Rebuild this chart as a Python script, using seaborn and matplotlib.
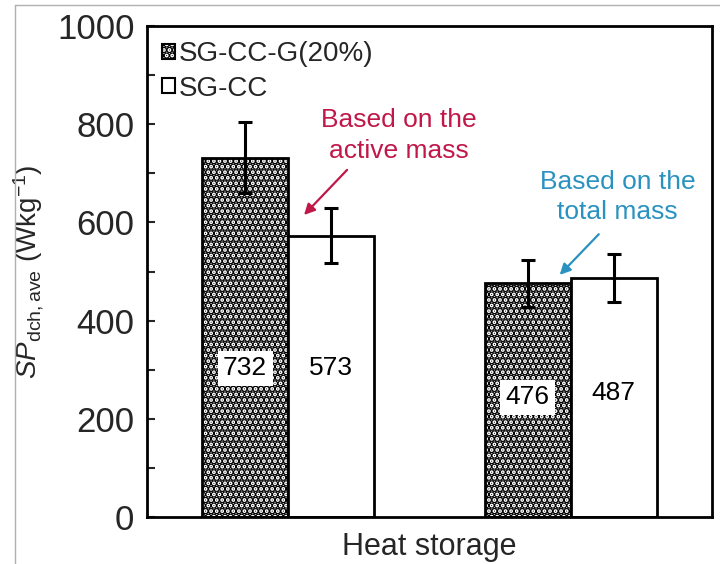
import matplotlib
matplotlib.use("Agg")
import matplotlib.pyplot as plt
import seaborn as sns
import pandas as pd
from matplotlib.patches import Patch
from matplotlib.lines import Line2D

# Average specific discharge power, W/kg
samples = ["SG-CC-G(20%)", "SG-CC"]
basis = ["Active mass", "Total mass"]
sp_composite = [732, 476]
sp_plain = [573, 487]
err_composite = [72, 48]
err_plain = [56, 49]
label_y = [[303, 244], [303, 253]]

sns.set_theme(style="white")
plt.rcParams["font.family"] = ["Liberation Sans", "DejaVu Sans"]
plt.rcParams["mathtext.fontset"] = "custom"
plt.rcParams["mathtext.rm"] = "Liberation Sans"
plt.rcParams["mathtext.it"] = "Liberation Sans:italic"
plt.rcParams["hatch.linewidth"] = 3.6
plt.rcParams["hatch.color"] = "black"

df = pd.DataFrame({
    "basis": basis * 2,
    "sample": [samples[0]] * 2 + [samples[1]] * 2,
    "sp": sp_composite + sp_plain,
})
errs = [err_composite, err_plain]
vals = [sp_composite, sp_plain]
stipple = "..."

fig = plt.figure(figsize=(7.2, 5.64), dpi=100)
ax = fig.add_axes([147 / 720, 1 - 517 / 564, (712 - 147) / 720, (517 - 26) / 564])

sns.barplot(data=df, x="basis", y="sp", hue="sample", hue_order=samples,
            order=basis, palette=["white", "white"], width=0.61,
            edgecolor="black", linewidth=2, errorbar=None, legend=False, ax=ax)

bar_groups = list(ax.containers)
for i, cont in enumerate(bar_groups):
    for j, bar in enumerate(list(cont)):
        if i == 0:
            bar.set_hatch(stipple)
        cx = bar.get_x() + bar.get_width() / 2
        ax.errorbar(cx, vals[i][j], yerr=errs[i][j], fmt="none", ecolor="black",
                    elinewidth=2.2, capsize=5, capthick=2.2, zorder=5)
        bbox = dict(facecolor="white", edgecolor="none", pad=4) if i == 0 else None
        ax.text(cx, label_y[i][j], f"{vals[i][j]}", ha="center", va="center",
                fontsize=19, color="black", bbox=bbox, zorder=6)

ax.set_xlim(-0.5, 1.5)
ax.set_ylim(0, 1000)
ax.set_yticks(range(0, 1001, 200))
ax.set_yticks(range(100, 1000, 200), minor=True)
ax.tick_params(axis="y", which="both", direction="in", left=True, length=6,
               width=1.5, labelsize=25, pad=9)
ax.tick_params(axis="x", bottom=False, labelbottom=False)
ax.set_xlabel("Heat storage", fontsize=22, labelpad=11)
ax.set_ylabel(r"$SP$$_{\mathrm{dch,ave}}$ (Wkg$^{\mathrm{-1}}$)", fontsize=20, labelpad=8)
for sp in ax.spines.values():
    sp.set_visible(True)
    sp.set_color("black")
    sp.set_linewidth(2)

red = "#c01848"
blue = "#2a92c0"
ax.text(0.39, 777, "Based on the\nactive mass", color=red, fontsize=19,
        ha="center", va="center", linespacing=1.35)
ax.annotate("", xy=(0.049, 611), xytext=(0.215, 711),
            arrowprops=dict(arrowstyle="-|>", color=red, lw=1.6, mutation_scale=16))
ax.text(1.165, 652, "Based on the\ntotal mass", color=blue, fontsize=19,
        ha="center", va="center", linespacing=1.35)
ax.annotate("", xy=(0.954, 489), xytext=(1.106, 580),
            arrowprops=dict(arrowstyle="-|>", color=blue, lw=1.6, mutation_scale=16))

handles = [Patch(facecolor="white", edgecolor="black", hatch=stipple, linewidth=1.5),
           Patch(facecolor="white", edgecolor="black", linewidth=1.5)]
ax.legend(handles, samples, loc="upper left", bbox_to_anchor=(0.0, 1.0),
          frameon=False, fontsize=20, handlelength=0.45, handleheight=0.45,
          handletextpad=0.15, labelspacing=0.3, borderaxespad=0.15)

# light frame around the figure
fig.add_artist(Line2D([15 / 720, 1.0], [1 - 5 / 564, 1 - 5 / 564], color="#b0b0b0", lw=1))
fig.add_artist(Line2D([15 / 720, 15 / 720], [0.0, 1 - 5 / 564], color="#b0b0b0", lw=1))

fig.savefig("out.png", dpi=100)
